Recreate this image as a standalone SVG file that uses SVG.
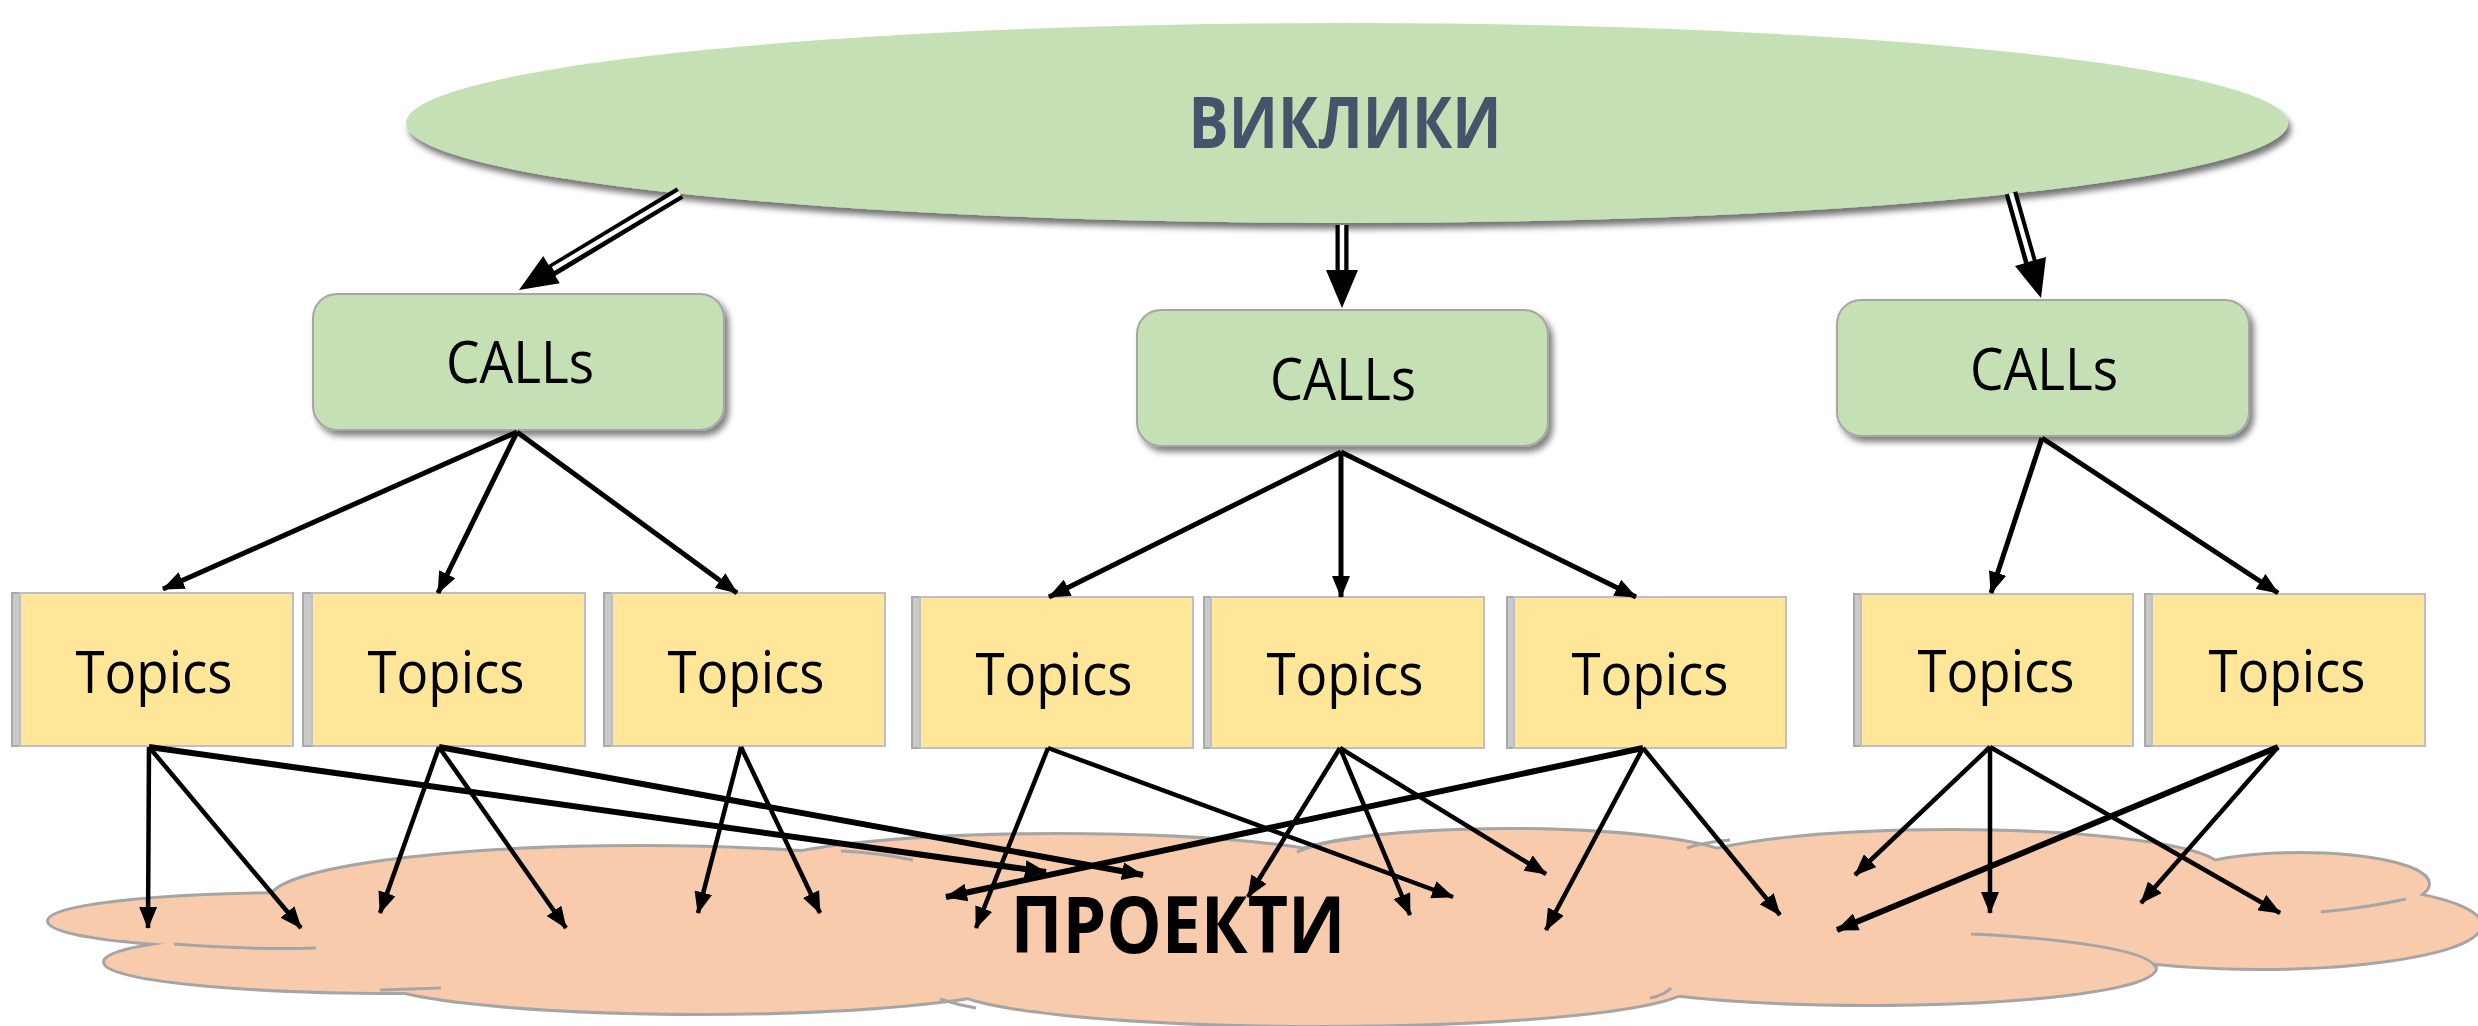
<svg xmlns="http://www.w3.org/2000/svg" width="2478" height="1026" viewBox="0 0 2478 1026">
<defs>
<style>
.call{fill:#C5E0B4;stroke:#A6A6A6;stroke-width:2}
.topic{fill:#FFE699;stroke:#BFBFBF;stroke-width:2}
.strip{fill:#C9C9C9;stroke:#A9A9A9;stroke-width:2}
.lbl{font-family:"Open Sans","Liberation Sans",sans-serif;font-size:58px;fill:#000;text-anchor:middle}
.lob{fill:#F8CBAD;stroke:#A5A5A5;stroke-width:6}
.lobf{fill:#F8CBAD;stroke:none}
.inner{fill:none;stroke:#A5A5A5;stroke-width:3}
.c{stroke:#000;stroke-width:5;fill:none;marker-end:url(#ah)}
.t{stroke:#000;stroke-width:4.5;fill:none;marker-end:url(#ah)}
.tk{stroke:#000;stroke-width:6;fill:none;marker-end:url(#ah)}
.dbo{stroke:#000;stroke-width:13;fill:none}
.dbi{stroke:#fff;stroke-width:4.5;fill:none}
</style>
<filter id="sh" x="-5%" y="-10%" width="110%" height="130%"><feDropShadow dx="3" dy="6" stdDeviation="3" flood-color="#000" flood-opacity="0.55"/></filter>
<filter id="sh2" x="-10%" y="-10%" width="125%" height="130%"><feDropShadow dx="4" dy="5" stdDeviation="3" flood-color="#000" flood-opacity="0.5"/></filter>
<marker id="ah" markerUnits="userSpaceOnUse" viewBox="0 0 22 18" markerWidth="22" markerHeight="18" refX="21" refY="9" orient="auto"><path d="M0,0 L22,9 L0,18 z" fill="#000"/></marker>
</defs>
<rect width="2478" height="1026" fill="#fff"/>

<g id="cloud">
<g id="cloud-outline">
<ellipse class="lob" cx="300" cy="921" rx="251" ry="27"/>
<ellipse class="lob" cx="400" cy="962" rx="295" ry="30"/>
<ellipse class="lob" cx="640" cy="900" rx="370" ry="53"/>
<ellipse class="lob" cx="700" cy="975" rx="330" ry="38"/>
<ellipse class="lob" cx="1060" cy="870" rx="300" ry="35"/>
<ellipse class="lob" cx="1320" cy="985" rx="370" ry="40"/>
<ellipse class="lob" cx="1510" cy="865" rx="230" ry="35"/>
<ellipse class="lob" cx="1950" cy="869" rx="270" ry="38"/>
<ellipse class="lob" cx="1870" cy="968" rx="285" ry="36"/>
<ellipse class="lob" cx="2300" cy="884" rx="128" ry="30"/>
<ellipse class="lob" cx="2260" cy="925" rx="220" ry="43"/>
</g>
<g id="cloud-fill">
<ellipse class="lobf" cx="300" cy="921" rx="251" ry="27"/>
<ellipse class="lobf" cx="400" cy="962" rx="295" ry="30"/>
<ellipse class="lobf" cx="640" cy="900" rx="370" ry="53"/>
<ellipse class="lobf" cx="700" cy="975" rx="330" ry="38"/>
<ellipse class="lobf" cx="1060" cy="870" rx="300" ry="35"/>
<ellipse class="lobf" cx="1320" cy="985" rx="370" ry="40"/>
<ellipse class="lobf" cx="1510" cy="865" rx="230" ry="35"/>
<ellipse class="lobf" cx="1950" cy="869" rx="270" ry="38"/>
<ellipse class="lobf" cx="1870" cy="968" rx="285" ry="36"/>
<ellipse class="lobf" cx="2300" cy="884" rx="128" ry="30"/>
<ellipse class="lobf" cx="2260" cy="925" rx="220" ry="43"/>
<polygon class="lobf" points="300,925 640,900 1060,880 1510,875 1950,880 2260,920 2150,960 1870,975 1320,990 700,980 400,965"/>
</g>
<g id="cloud-inner">
<path class="inner" d="M174,944 Q245,950 316,948"/>
<path class="inner" d="M380,990 L441,988"/>
<path class="inner" d="M841,851 Q880,853 913,860"/>
<path class="inner" d="M1297,852 Q1320,842 1360,838"/>
<path class="inner" d="M1687,848 Q1705,842 1730,840"/>
<path class="inner" d="M2406,899 Q2365,908 2321,912"/>
<path class="inner" d="M1971,934 C2060,938 2150,950 2155,967"/>
<path class="inner" d="M1671,988 Q1665,995 1650,998"/>
<path class="inner" d="M940,999 Q958,1005 976,1008"/>
</g>
<text x="1178" y="953" font-family="'Open Sans','Liberation Sans',sans-serif" font-size="78" font-weight="bold" fill="#000" text-anchor="middle" textLength="335" lengthAdjust="spacingAndGlyphs">ПРОЕКТИ</text>
</g>

<g id="vyklyky">
<ellipse cx="1347" cy="123" rx="941" ry="100" fill="#C5E0B4" filter="url(#sh)"/>
<text x="1345" y="148" font-family="'Open Sans','Liberation Sans',sans-serif" font-size="71" font-weight="bold" fill="#44546A" text-anchor="middle" textLength="313" lengthAdjust="spacingAndGlyphs">ВИКЛИКИ</text>
</g>

<g id="call-1"><rect class="call" x="313" y="294" width="411" height="136" rx="24" filter="url(#sh2)"/><text class="lbl" x="520" y="383" textLength="148" lengthAdjust="spacingAndGlyphs">CALLs</text></g>
<g id="call-2"><rect class="call" x="1137" y="310" width="411" height="136" rx="24" filter="url(#sh2)"/><text class="lbl" x="1343" y="400" textLength="146" lengthAdjust="spacingAndGlyphs">CALLs</text></g>
<g id="call-3"><rect class="call" x="1837" y="300" width="412" height="136" rx="24" filter="url(#sh2)"/><text class="lbl" x="2044" y="390" textLength="148" lengthAdjust="spacingAndGlyphs">CALLs</text></g>

<g id="topic-1"><rect class="strip" x="12" y="593" width="281" height="153"/><rect class="topic" x="20" y="593" width="273" height="153"/><text class="lbl" x="154" y="693" textLength="157" lengthAdjust="spacingAndGlyphs">Topics</text></g>
<g id="topic-2"><rect class="strip" x="303" y="593" width="282" height="153"/><rect class="topic" x="312" y="593" width="273" height="153"/><text class="lbl" x="446" y="693" textLength="157" lengthAdjust="spacingAndGlyphs">Topics</text></g>
<g id="topic-3"><rect class="strip" x="604" y="593" width="281" height="153"/><rect class="topic" x="612" y="593" width="273" height="153"/><text class="lbl" x="746" y="693" textLength="157" lengthAdjust="spacingAndGlyphs">Topics</text></g>
<g id="topic-4"><rect class="strip" x="912" y="597" width="281" height="151"/><rect class="topic" x="920" y="597" width="273" height="151"/><text class="lbl" x="1054" y="695" textLength="157" lengthAdjust="spacingAndGlyphs">Topics</text></g>
<g id="topic-5"><rect class="strip" x="1204" y="597" width="280" height="151"/><rect class="topic" x="1211" y="597" width="273" height="151"/><text class="lbl" x="1345" y="695" textLength="157" lengthAdjust="spacingAndGlyphs">Topics</text></g>
<g id="topic-6"><rect class="strip" x="1507" y="597" width="279" height="151"/><rect class="topic" x="1514" y="597" width="272" height="151"/><text class="lbl" x="1650" y="695" textLength="157" lengthAdjust="spacingAndGlyphs">Topics</text></g>
<g id="topic-7"><rect class="strip" x="1854" y="594" width="279" height="152"/><rect class="topic" x="1861" y="594" width="272" height="152"/><text class="lbl" x="1996" y="692" textLength="157" lengthAdjust="spacingAndGlyphs">Topics</text></g>
<g id="topic-8"><rect class="strip" x="2145" y="594" width="280" height="152"/><rect class="topic" x="2152" y="594" width="273" height="152"/><text class="lbl" x="2287" y="692" textLength="157" lengthAdjust="spacingAndGlyphs">Topics</text></g>

<g id="connectors">
<g id="double-arrows">
<line class="dbo" x1="680" y1="193" x2="551" y2="271"/><line class="dbi" x1="680" y1="193" x2="553" y2="269"/><polygon points="519,290 559.8,283.3 543.2,255.9" fill="#000"/>
<line class="dbo" x1="1342" y1="225" x2="1342" y2="273"/><line class="dbi" x1="1342" y1="225" x2="1342" y2="271"/><polygon points="1342,308 1326,270 1358,270" fill="#000"/>
<line class="dbo" x1="2011" y1="193" x2="2031" y2="264"/><line class="dbi" x1="2011" y1="193" x2="2030.6" y2="261.4"/><polygon points="2041,298 2046,257 2015,266" fill="#000"/>
</g>
<line class="c" x1="517" y1="432" x2="163" y2="589"/>
<line class="c" x1="517" y1="432" x2="438" y2="593"/>
<line class="c" x1="517" y1="432" x2="737" y2="593"/>
<line class="c" x1="1341" y1="452" x2="1049" y2="597"/>
<line class="c" x1="1341" y1="452" x2="1341" y2="597"/>
<line class="c" x1="1341" y1="452" x2="1636" y2="597"/>
<line class="c" x1="2042" y1="438" x2="1991" y2="593"/>
<line class="c" x1="2042" y1="438" x2="2278" y2="593"/>

<line class="t" x1="149" y1="747" x2="148" y2="928"/>
<line class="t" x1="149" y1="747" x2="301" y2="928"/>
<line class="tk" x1="149" y1="747" x2="1046" y2="872"/>
<line class="t" x1="439" y1="747" x2="380" y2="913"/>
<line class="t" x1="439" y1="747" x2="566" y2="928"/>
<line class="tk" x1="439" y1="747" x2="1143" y2="875"/>
<line class="t" x1="741" y1="747" x2="698" y2="913"/>
<line class="t" x1="741" y1="747" x2="820" y2="913"/>
<line class="t" x1="1048" y1="748" x2="976" y2="928"/>
<line class="t" x1="1048" y1="748" x2="1453" y2="897"/>
<line class="t" x1="1340" y1="748" x2="1248" y2="897"/>
<line class="t" x1="1340" y1="748" x2="1410" y2="915"/>
<line class="t" x1="1340" y1="748" x2="1546" y2="874"/>
<line class="t" x1="1643" y1="748" x2="1546" y2="930"/>
<line class="t" x1="1643" y1="748" x2="1780" y2="915"/>
<line class="tk" x1="1643" y1="748" x2="946" y2="897"/>
<line class="t" x1="1990" y1="747" x2="1855" y2="875"/>
<line class="t" x1="1990" y1="747" x2="1990" y2="913"/>
<line class="t" x1="1990" y1="747" x2="2280" y2="913"/>
<line class="t" x1="2278" y1="747" x2="2141" y2="903"/>
<line class="tk" x1="2278" y1="747" x2="1837" y2="930"/>
</g>
</svg>
